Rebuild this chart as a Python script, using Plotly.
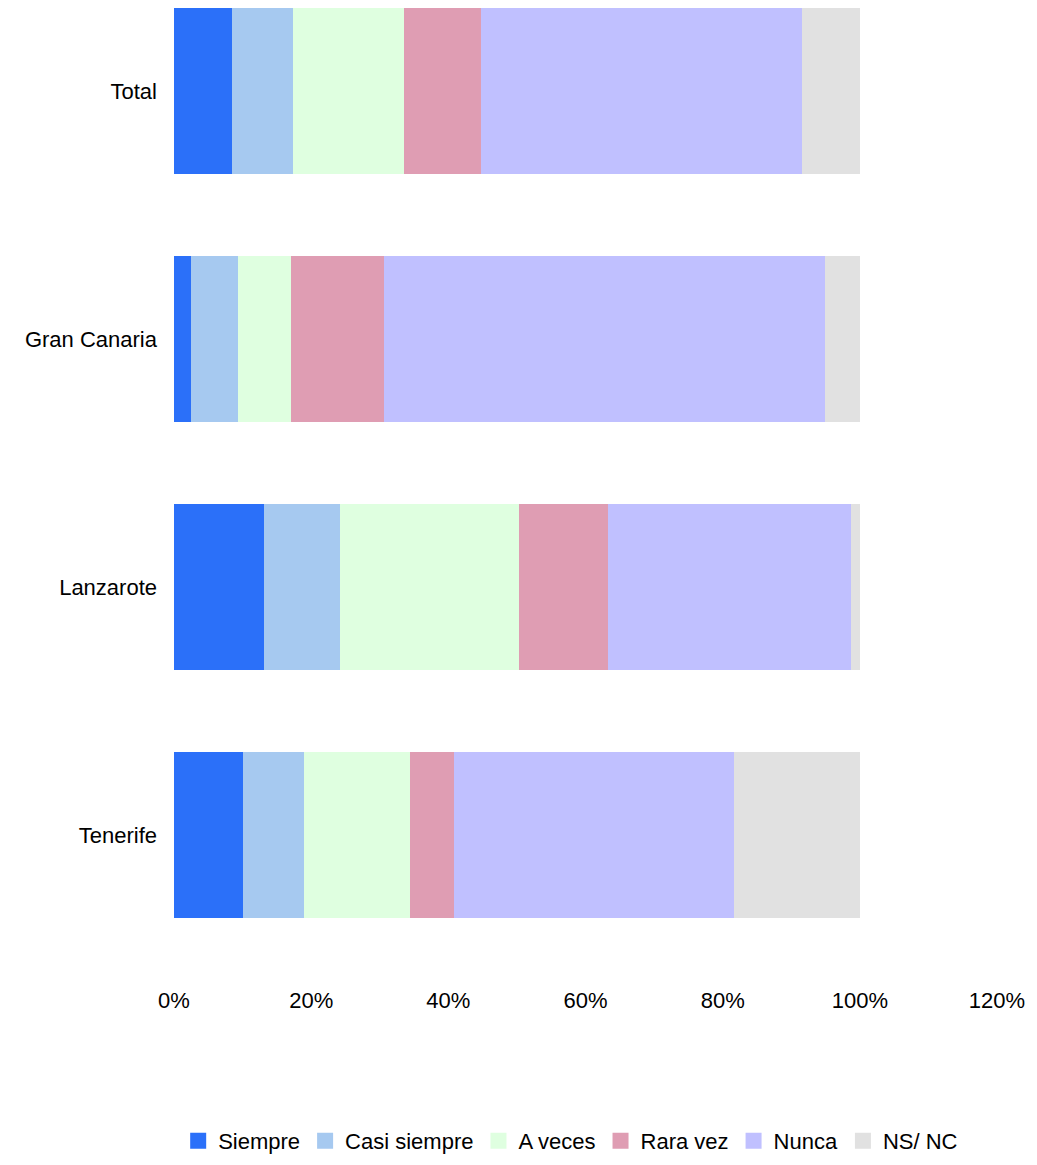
import plotly.graph_objects as go

# categorias (de baixo para cima no eixo)
islas = ["Tenerife", "Lanzarote", "Gran Canaria", "Total"]

siempre = [10.0, 13.1, 2.5, 8.5]
casi_siempre = [8.9, 11.1, 6.9, 8.9]
a_veces = [15.5, 26.1, 7.6, 16.2]
rara_vez = [6.4, 13.0, 13.6, 11.1]
nunca = [40.8, 35.4, 64.3, 46.9]
ns_nc = [18.4, 1.3, 5.1, 8.4]

series = [
    ("Siempre", siempre, "#2B70F9"),
    ("Casi siempre", casi_siempre, "#A6C9F0"),
    ("A veces", a_veces, "#DFFFE0"),
    ("Rara vez", rara_vez, "#DF9DB3"),
    ("Nunca", nunca, "#C0C0FF"),
    ("NS/ NC", ns_nc, "#E1E1E1"),
]

tick_vals = [0, 20, 40, 60, 80, 100, 120]
tick_text = ["0%", "20%", "40%", "60%", "80%", "100%", "120%"]

fig = go.Figure()
for nombre, valores, color in series:
    fig.add_trace(go.Bar(
        y=islas,
        x=valores,
        name=nombre,
        orientation="h",
        marker=dict(color=color, line=dict(width=0)),
        showlegend=False,
    ))

# entradas de legenda com quadrados maiores
for nombre, valores, color in series:
    fig.add_trace(go.Scatter(
        x=[None], y=[None],
        mode="markers",
        name=nombre,
        marker=dict(symbol="square", size=17, color=color),
        showlegend=True,
    ))

fig.update_layout(
    barmode="stack",
    bargap=0.33,
    width=1021,
    height=1149,
    plot_bgcolor="white",
    paper_bgcolor="white",
    font=dict(family="Liberation Sans, Arial, sans-serif", size=22, color="#000000"),
    margin=dict(l=166, r=32, t=0, b=169, autoexpand=False),
    legend=dict(
        orientation="h",
        x=0.482, xanchor="center",
        y=-0.156, yanchor="middle",
        font=dict(size=22),
        traceorder="normal",
        itemwidth=30,
    ),
)

fig.update_xaxes(
    range=[0, 120],
    tickvals=tick_vals,
    ticktext=tick_text,
    showgrid=False,
    zeroline=False,
    showline=False,
    ticks="",
    ticklabelstandoff=-3,
)
fig.update_yaxes(
    range=[-0.617, 3.335],
    showgrid=False,
    zeroline=False,
    showline=False,
    ticks="",
    ticklabelstandoff=16,
)

fig.write_html("out.html")
